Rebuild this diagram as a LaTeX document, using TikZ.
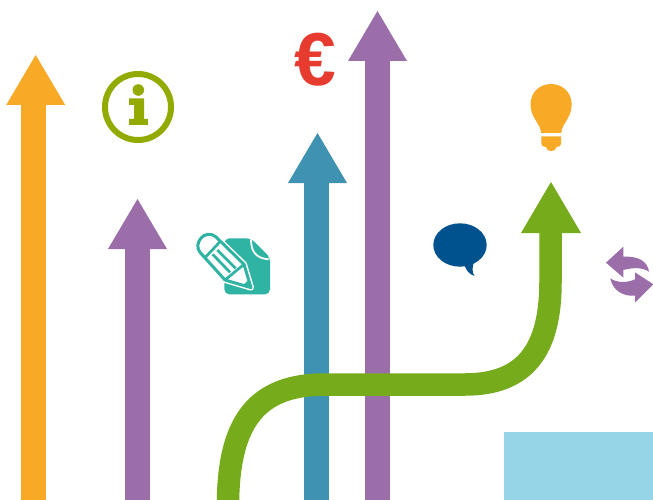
\documentclass[tikz,border=0pt]{standalone}
\usepackage{fontspec}
\setmainfont{Liberation Sans}
\definecolor{aorange}{HTML}{F8AA27}
\definecolor{apurple}{HTML}{9B6EA9}
\definecolor{ablue}{HTML}{3F92B1}
\definecolor{agreen}{HTML}{76AB1B}
\definecolor{ateal}{HTML}{2FB3A3}
\definecolor{aolive}{HTML}{93AB00}
\definecolor{anavy}{HTML}{00528F}
\definecolor{ared}{HTML}{E63B2E}
\definecolor{asky}{HTML}{96D5E8}
\tikzset{
  icon/.style={scale=1/3,line join=round}
}
\newcommand{\uparrowshape}[5]{% colour, shaft centre x, head centre x, tip y, base y
  \fill[#1] (#2-12.5,500) rectangle (#2+12.5,#5);
  \fill[#1] (#3,#4) -- (#3+29.5,#5) -- (#3-29.5,#5) -- cycle;
}
\begin{document}
\begin{tikzpicture}[x=1pt,y=-1pt]
\useasboundingbox (0,0) rectangle (653,500);
\fill[white] (0,0) rectangle (653,500);
\fill[asky] (504,432) rectangle (653,500);
\uparrowshape{aorange}{33.5}{35.7}{55}{105}
\uparrowshape{apurple}{137.5}{137.5}{199}{249}
\uparrowshape{ablue}{316.5}{317.5}{133}{183}
\uparrowshape{apurple}{377.5}{377.5}{11}{61}
% green arrow
\begin{scope}
\clip (0,0) rectangle (653,500);
\draw[agreen,line width=22.5pt] (228,506) -- (228,500) .. controls (229.5,420) and (258,384.5) .. (325,384.5) -- (465,384.5) .. controls (525,384.5) and (550.5,350) .. (550.5,282) -- (550.5,232);
\end{scope}
\fill[agreen] (551,182) -- (581,233) -- (521,233) -- cycle;
% euro
\node[text=ared,font=\fontsize{75}{75}\selectfont\bfseries,inner sep=0pt] (euro) at (315.5,59.5) {€};
% info icon
\draw[aolive,line width=6pt] (138,107) circle (33);
\fill[aolive] (138.3,90) circle (5.8);
\fill[aolive] (129,98.3) -- (144,98.3) -- (144,119) -- (147.8,119) -- (147.8,125) -- (129,125) -- (129,119) -- (134,119) -- (134,105) -- (129,105) -- cycle;
% bulb
\fill[aorange] (541,133) .. controls (541,124) and (530.5,118) .. (530.5,104.5) .. controls (530.5,92) and (540,84) .. (551,84) .. controls (562,84) and (571.7,92) .. (571.7,104.5) .. controls (571.7,118) and (561.3,124) .. (561.3,133) -- cycle;
\fill[aorange] (541.3,136.5) -- (561,136.5) -- (561,144) .. controls (561,146) and (559,147) .. (556.5,147) .. controls (556,150) and (554,151) .. (551,151) .. controls (548,151) and (546.5,150) .. (546,147) .. controls (543.5,147) and (541.3,146) .. (541.3,144) -- cycle;
% speech bubble
\fill[anavy] (460,245) ellipse [x radius=26.7, y radius=21.7];
\fill[anavy] (464,262) .. controls (465,270) and (469,274) .. (474.5,276) .. controls (472,272) and (472,268) .. (474,262) -- cycle;
% sync icon
\begin{scope}[shift={(595,240)},icon]
\fill[apurple] (33,68) -- (85,20) -- (85,50) .. controls (128,48) and (157,62) .. (162,95) .. controls (142,82) and (115,82) .. (85,90) -- (85,113) -- cycle;
\fill[apurple] (175,133) -- (120,188) -- (120,167) .. controls (85,170) and (53,152) .. (46,115) .. controls (65,128) and (92,130) .. (120,118) -- (120,97) -- cycle;
\end{scope}
% note and pencil
\begin{scope}[shift={(180,220)},icon]
\fill[ateal,rounded corners=5pt] (133,55) -- (213,55) -- (270,112) -- (270,223) -- (133,223) -- cycle;
\draw[white,line width=1.8pt] (213,58) .. controls (213,95) and (228,115) .. (266,118);
\draw[white,line width=6pt,fill=white] (107,50) -- (192,133) -- (213,203) -- (135,180) -- (60,97) .. controls (38,70) and (75,25) .. (107,50) -- cycle;
\draw[ateal,line width=3pt,fill=white] (107,50) -- (192,133) -- (213,203) -- (135,180) -- (60,97) .. controls (38,70) and (75,25) .. (107,50) -- cycle;
\draw[ateal,line width=2.7pt] (75,113) -- (122,63);
\draw[ateal,line width=2.7pt] (98,103) -- (150,157);
\draw[ateal,line width=2.7pt] (112,90) -- (167,145);
\draw[ateal,line width=2.7pt] (135,180) -- (192,133);
\fill[ateal] (213,203) -- (188,196) -- (206,180) -- cycle;
\end{scope}
\end{tikzpicture}
\end{document}
